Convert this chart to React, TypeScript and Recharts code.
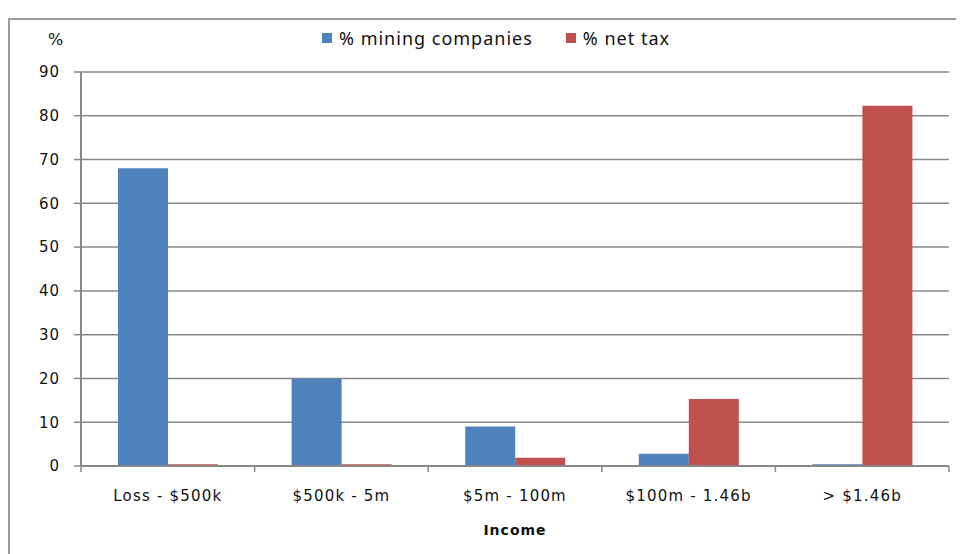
import React from "react";
import { BarChart, Bar, XAxis, YAxis, CartesianGrid, Legend } from "recharts";

const categories = ["Loss - $500k", "$500k - 5m", "$5m - 100m", "$100m - 1.46b", "> $1.46b"];
const miningCompanies = [68, 20, 9, 2.8, 0.4];
const netTax = [0.4, 0.4, 1.9, 15.3, 82.3];
const yTicks = [0, 10, 20, 30, 40, 50, 60, 70, 80, 90];

const data = categories.map((name, i) => ({
  name,
  mining: miningCompanies[i],
  tax: netTax[i],
}));

const CHART_W = 955;
const CHART_H = 535;
const LEGEND_H = 24;
const MARGIN = { top: 52 - LEGEND_H, right: 16, left: 0, bottom: 29 };
const Y_W = 71;
const PLOT_W = CHART_W - MARGIN.left - MARGIN.right - Y_W;
const BAND = PLOT_W / categories.length;

const AXIS = "#888888";
const FONT = "'DejaVu Sans', Verdana, sans-serif";

function XTick(props: any) {
  const { x, y, payload, index } = props;
  const left = x - BAND / 2;
  const top = y - 8;
  return (
    <g>
      <line x1={left} y1={top} x2={left} y2={top + 6} stroke={AXIS} strokeWidth={1.5} />
      {index === categories.length - 1 && (
        <line x1={x + BAND / 2} y1={top} x2={x + BAND / 2} y2={top + 6} stroke={AXIS} strokeWidth={1.5} />
      )}
      <text
        x={x}
        y={y + 27}
        textAnchor="middle"
        fontFamily={FONT}
        fontSize={15}
        letterSpacing={1.2}
        fill="#111"
      >
        {payload.value}
      </text>
    </g>
  );
}

function LegendBox(props: any) {
  const items = props.payload || [];
  return (
    <div style={{ display: "flex", height: LEGEND_H, alignItems: "center" }}>
      {items.map((it: any) => (
        <div key={it.value} style={{ display: "flex", alignItems: "center", marginRight: 33 }}>
          <span style={{ width: 10, height: 10, background: it.color, marginRight: 7, display: "inline-block" }} />
          <span
            style={{
              fontFamily: "'Noto Sans', sans-serif",
              fontSize: 18,
              letterSpacing: 1,
              color: "#111",
            }}
          >
            {it.value}
          </span>
        </div>
      ))}
    </div>
  );
}

export default function App() {
  return (
    <div
      style={{
        position: "relative",
        marginTop: 10,
        width: 955,
        height: 536,
        borderLeft: "2px solid #9a9a9a",
        borderTop: "2px solid #9a9a9a",
        overflow: "hidden",
      }}
    >
      <div
        style={{
          position: "absolute",
          left: 38,
          top: 10,
          fontFamily: FONT,
          fontSize: 16,
          color: "#111",
        }}
      >
        %
      </div>
      <BarChart width={CHART_W} height={CHART_H} data={data} margin={MARGIN} barGap={0} barSize={50}>
        <CartesianGrid vertical={false} stroke={AXIS} strokeWidth={1.5} />
        <XAxis
          dataKey="name"
          tickLine={false}
          axisLine={{ stroke: AXIS, strokeWidth: 2 }}
          tick={<XTick />}
          interval={0}
          height={60}
          label={{
            value: "Income",
            position: "insideBottom",
            offset: -9,
            fontFamily: FONT,
            fontSize: 14,
            fontWeight: "bold",
            fill: "#111",
            letterSpacing: 1,
          }}
        />
        <YAxis
          width={Y_W}
          domain={[0, 90]}
          ticks={yTicks}
          interval={0}
          tickSize={7}
          tickMargin={14}
          tickLine={{ stroke: AXIS, strokeWidth: 1.5 }}
          axisLine={{ stroke: AXIS, strokeWidth: 2 }}
          tick={{ fontFamily: FONT, fontSize: 15, fill: "#111", letterSpacing: 1 }}
        />
        <Legend
          verticalAlign="top"
          height={LEGEND_H}
          content={<LegendBox />}
          wrapperStyle={{ top: 6, left: 312, width: 500 }}
        />
        <Bar dataKey="mining" name="% mining companies" fill="#4F81BD" isAnimationActive={false} />
        <Bar dataKey="tax" name="% net tax" fill="#C0504D" isAnimationActive={false} />
      </BarChart>
    </div>
  );
}
